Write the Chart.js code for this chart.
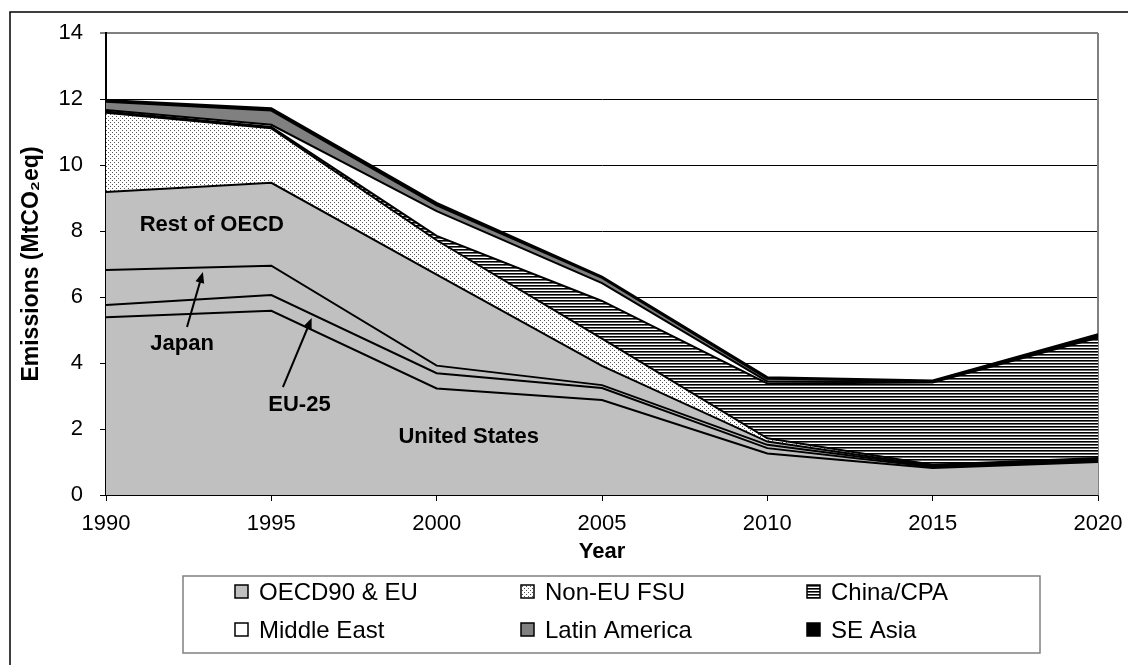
<!DOCTYPE html>
<html>
<head>
<meta charset="utf-8">
<script src="https://cdn.jsdelivr.net/npm/chart.js@4.4.1/dist/chart.umd.min.js"></script>
<style>
  body { margin: 0; background: #fff; }
  #wrap { width: 1128px; height: 665px; }
</style>
</head>
<body>
<div id="wrap"><canvas id="chart" width="1128" height="665"></canvas></div>
<script>
// values (MtCO2eq), stacked bottom to top
const years = [1990, 1995, 2000, 2005, 2010, 2015, 2020];
const unitedStates = [5.39, 5.58, 3.23, 2.88, 1.26, 0.82, 1.00];
const eu25        = [0.37, 0.48, 0.46, 0.36, 0.16, 0.03, 0.03];
const japan       = [1.06, 0.89, 0.23, 0.09, 0.10, 0.02, 0.03];
const restOfOecd  = [2.36, 2.51, 2.76, 0.58, 0.10, 0.02, 0.03];
const nonEuFsu    = [2.40, 1.65, 1.04, 0.83, 0.10, 0.03, 0.03];
const chinaCpa    = [0.04, 0.04, 0.13, 1.14, 1.66, 2.49, 3.65];
const middleEast  = [0.05, 0.07, 0.75, 0.54, 0.06, 0.02, 0.03];
const latinAmerica= [0.25, 0.43, 0.18, 0.16, 0.08, 0.02, 0.04];
const seAsia      = [0.05, 0.07, 0.07, 0.04, 0.05, 0.02, 0.03];

const yMax = 14;
const yStep = 2;
const xStep = 5;

Chart.defaults.font.family = '"Liberation Sans", Arial, sans-serif';
Chart.defaults.color = "#000";

function makePattern(w, h, draw){
    const c = document.createElement("canvas");
    c.width = w; c.height = h;
    const g = c.getContext("2d");
    draw(g);
    return document.getElementById("chart").getContext("2d").createPattern(c, "repeat");
}

const grayFill = "#c0c0c0";
const dotFill = makePattern(4, 4, g => {
    g.fillStyle = "#fff"; g.fillRect(0, 0, 4, 4);
    g.fillStyle = "#555"; g.fillRect(0, 0, 1, 1); g.fillRect(2, 2, 1, 1);
});
const stripeFill = makePattern(1, 3, g => {
    g.fillStyle = "#fff"; g.fillRect(0, 0, 1, 3);
    g.fillStyle = "#000"; g.fillRect(0, 0, 1, 1);
    g.fillStyle = "#666"; g.fillRect(0, 1, 1, 1);
});

function area(label, data, fill, bg, legendName){
    return {
        label: label,
        data: data,
        fill: fill,
        backgroundColor: bg,
        borderColor: "#000",
        borderWidth: 2,
        pointRadius: 0,
        tension: 0,
        legendName: legendName
    };
}

const plotFrame = {
    id: "plotFrame",
    beforeDatasetsDraw(chart){
        const {ctx, chartArea: a} = chart;
        ctx.save();
        ctx.strokeStyle = "#808080";
        ctx.lineWidth = 2;
        ctx.beginPath();
        ctx.moveTo(a.right, a.top);
        ctx.lineTo(a.right, a.bottom);
        ctx.stroke();
        ctx.restore();
    },
    afterDraw(chart){
        const ctx = chart.ctx;
        ctx.save();
        ctx.strokeStyle = "#000";
        ctx.lineWidth = 1.5;
        ctx.beginPath();
        ctx.moveTo(10, chart.height + 5);
        ctx.lineTo(10, 12);
        ctx.lineTo(chart.width + 5, 12);
        ctx.stroke();
        ctx.restore();
    }
};

// labels inside the grey OECD area, placed in data units
const notes = [
    {text: "Rest of OECD", x: 1993.2, y: 8.18},
    {text: "Japan", x: 1992.3, y: 4.58, from: [1992.45, 5.09], to: [1992.93, 6.76]},
    {text: "EU-25", x: 1995.85, y: 2.73, from: [1995.35, 3.27], to: [1996.22, 5.36]},
    {text: "United States", x: 2000.97, y: 1.76}
];

const annotations = {
    id: "annotations",
    afterDatasetsDraw(chart){
        const {ctx, scales: {x, y}} = chart;
        ctx.save();
        ctx.fillStyle = "#000";
        ctx.strokeStyle = "#000";
        ctx.font = 'bold 22px "Liberation Sans", Arial, sans-serif';
        ctx.textAlign = "center";
        ctx.textBaseline = "middle";
        for (const n of notes){
            ctx.fillText(n.text, x.getPixelForValue(n.x), y.getPixelForValue(n.y));
            if (n.from){
                const x0 = x.getPixelForValue(n.from[0]), y0 = y.getPixelForValue(n.from[1]);
                const x1 = x.getPixelForValue(n.to[0]), y1 = y.getPixelForValue(n.to[1]);
                const ang = Math.atan2(y1 - y0, x1 - x0);
                ctx.lineWidth = 2;
                ctx.beginPath();
                ctx.moveTo(x0, y0);
                ctx.lineTo(x1 - 8 * Math.cos(ang), y1 - 8 * Math.sin(ang));
                ctx.stroke();
                ctx.beginPath();
                ctx.moveTo(x1, y1);
                ctx.lineTo(x1 - 11 * Math.cos(ang) + 4.5 * Math.sin(ang), y1 - 11 * Math.sin(ang) - 4.5 * Math.cos(ang));
                ctx.lineTo(x1 - 11 * Math.cos(ang) - 4.5 * Math.sin(ang), y1 - 11 * Math.sin(ang) + 4.5 * Math.cos(ang));
                ctx.closePath();
                ctx.fill();
            }
        }
        ctx.restore();
    }
};

// legend box in 3 columns x 2 rows like the original
const boxLegend = {
    id: "boxLegend",
    afterDraw(chart){
        const ctx = chart.ctx;
        const box = {left: 183, top: 576, right: 1040, bottom: 653};
        const cols = [235, 521, 807];
        const rows = [592, 630];
        ctx.save();
        ctx.strokeStyle = "#808080";
        ctx.lineWidth = 1.5;
        ctx.strokeRect(box.left, box.top, box.right - box.left, box.bottom - box.top);
        const items = chart.data.datasets.filter(d => d.legendName);
        ctx.font = '24px "Liberation Sans", Arial, sans-serif';
        ctx.textBaseline = "middle";
        ctx.textAlign = "left";
        items.forEach((d, i) => {
            const cx = cols[i % 3], cy = rows[Math.floor(i / 3)];
            ctx.fillStyle = d.backgroundColor;
            ctx.fillRect(cx, cy - 7, 13, 13);
            ctx.strokeStyle = "#000";
            ctx.lineWidth = 1.5;
            ctx.strokeRect(cx, cy - 7, 13, 13);
            ctx.fillStyle = "#000";
            ctx.fillText(d.legendName, cx + 24, cy + 1);
        });
        ctx.restore();
    }
};

new Chart(document.getElementById("chart"), {
    type: "line",
    data: {
        labels: years,
        datasets: [
            area("United States", unitedStates, "origin", grayFill, "OECD90 & EU"),
            area("EU-25", eu25, "-1", grayFill),
            area("Japan", japan, "-1", grayFill),
            area("Rest of OECD", restOfOecd, "-1", grayFill),
            area("Non-EU FSU", nonEuFsu, "-1", dotFill, "Non-EU FSU"),
            area("China/CPA", chinaCpa, "-1", stripeFill, "China/CPA"),
            area("Middle East", middleEast, "-1", "#fff", "Middle East"),
            area("Latin America", latinAmerica, "-1", "#808080", "Latin America"),
            area("SE Asia", seAsia, "-1", "#000", "SE Asia")
        ]
    },
    options: {
        responsive: false,
        animation: false,
        layout: {
            padding: {top: 33, right: 30, bottom: 0, left: 0}
        },
        plugins: {
            legend: {display: false},
            tooltip: {enabled: false}
        },
        scales: {
            x: {
                type: "linear",
                min: years[0],
                max: years[years.length - 1],
                afterFit: s => { s.height = 170; s.paddingLeft = 0; s.paddingRight = 0; },
                ticks: {
                    stepSize: xStep,
                    callback: v => String(v),
                    font: {size: 22},
                    padding: 10,
                    maxRotation: 0
                },
                grid: {drawOnChartArea: false, drawTicks: true, tickLength: 6, color: "#000"},
                border: {color: "#000", width: 1.5},
                title: {
                    display: true,
                    text: "Year",
                    font: {size: 22, weight: "bold"},
                    padding: {top: 0, bottom: 100}
                }
            },
            y: {
                stacked: true,
                min: 0,
                max: yMax,
                afterFit: s => { s.width = 106; s.paddingTop = 0; s.paddingBottom = 0; },
                ticks: {
                    stepSize: yStep,
                    font: {size: 22},
                    padding: 17
                },
                grid: {
                    color: c => (c.tick && c.tick.value === yMax) ? "#808080" : "#000",
                    lineWidth: c => (c.tick && c.tick.value === yMax) ? 2 : 1,
                    tickLength: 6
                },
                border: {color: "#000", width: 2},
                title: {
                    display: true,
                    text: "Emissions (MtCO\u2082eq)",
                    font: {size: 23, weight: "bold"},
                    padding: {top: 18, bottom: 0}
                }
            }
        }
    },
    plugins: [plotFrame, annotations, boxLegend]
});
</script>
</body>
</html>
